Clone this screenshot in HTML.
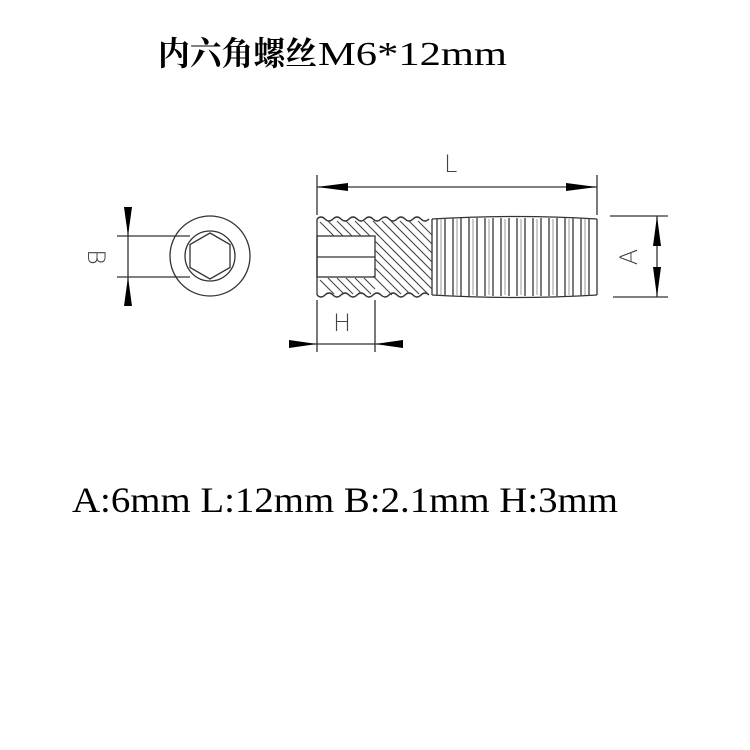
<!DOCTYPE html>
<html><head><meta charset="utf-8"><style>html,body{margin:0;padding:0;background:#fff}svg{display:block}</style></head>
<body>
<svg width="750" height="750" viewBox="0 0 750 750" xmlns="http://www.w3.org/2000/svg">
<rect width="750" height="750" fill="#fff"/>
<text x="158" y="65" font-family="Noto Serif CJK SC, serif" font-size="33" font-weight="bold" textLength="159" lengthAdjust="spacingAndGlyphs" fill="#000">内六角螺丝</text>
<text x="318" y="65" font-family="Liberation Serif, serif" font-size="34" textLength="189" lengthAdjust="spacingAndGlyphs" fill="#000">M6*12mm</text>
<text x="72" y="512" font-family="Liberation Serif, serif" font-size="36" textLength="546" lengthAdjust="spacingAndGlyphs" fill="#000">A:6mm L:12mm B:2.1mm H:3mm</text>
<g stroke="#333" stroke-width="1.3" fill="none">
<circle cx="210" cy="256" r="40"/>
<circle cx="210" cy="256" r="25"/>
<polygon points="210,233 230,244.5 230,267.5 210,279 190,267.5 190,244.5"/>
<line x1="117" y1="236" x2="190" y2="236"/>
<line x1="117" y1="277" x2="190" y2="277"/>
<line x1="128" y1="207" x2="128" y2="305"/>
<line x1="317" y1="175" x2="317" y2="215"/>
<line x1="597" y1="175" x2="597" y2="215"/>
<line x1="317" y1="187" x2="597" y2="187"/>
<line x1="610" y1="216" x2="668" y2="216"/>
<line x1="613" y1="297" x2="668" y2="297"/>
<line x1="657" y1="216" x2="657" y2="297"/>
<line x1="317" y1="300" x2="317" y2="352"/>
<line x1="375" y1="300" x2="375" y2="352"/>
<line x1="290" y1="344" x2="402" y2="344"/>
<path d="M317,219 Q321,215 325,219 Q329,223 333,219 Q337,215 341,219 Q345,223 349,219 Q353,215 357,219 Q361,223 365,219 Q369,215 373,219 Q377,223 381,219 Q385,215 389,219 Q393,223 397,219 Q401,215 405,219 Q409,223 413,219 Q417,215 421,219 Q425,223 429,219"/>
<path d="M317,295 Q321,299 325,295 Q329,291 333,295 Q337,299 341,295 Q345,291 349,295 Q353,299 357,295 Q361,291 365,295 Q369,299 373,295 Q377,291 381,295 Q385,299 389,295 Q393,291 397,295 Q401,299 405,295 Q409,291 413,295 Q417,299 421,295 Q425,291 429,295"/>
<path d="M432,219 Q516,214 597,219"/>
<path d="M432,295 Q516,300 597,295"/>
<line x1="317" y1="219" x2="317" y2="295"/>
<line x1="432" y1="219" x2="432" y2="295"/>
<rect x="317" y="236" width="58" height="41"/>
<line x1="317" y1="257" x2="375" y2="257"/>
<line x1="597" y1="219" x2="597" y2="295"/>
</g>
<g stroke="#444" stroke-width="1.1">
<line x1="320" y1="222" x2="334" y2="236"/><line x1="328" y1="221" x2="343" y2="236"/><line x1="337" y1="221" x2="352" y2="236"/><line x1="346" y1="221" x2="361" y2="236"/><line x1="355" y1="221" x2="370" y2="236"/><line x1="364" y1="221" x2="379" y2="236"/>
<line x1="320" y1="280" x2="334" y2="294"/><line x1="328" y1="278" x2="344" y2="294"/><line x1="337" y1="278" x2="353" y2="294"/><line x1="346" y1="278" x2="362" y2="294"/><line x1="355" y1="278" x2="371" y2="294"/><line x1="364" y1="278" x2="375" y2="289"/>
<line x1="373" y1="221" x2="432" y2="280"/><line x1="382" y1="221" x2="432" y2="271"/><line x1="391" y1="221" x2="432" y2="262"/><line x1="400" y1="221" x2="432" y2="253"/><line x1="409" y1="221" x2="432" y2="244"/><line x1="418" y1="221" x2="432" y2="235"/>
<line x1="375" y1="232" x2="432" y2="289"/><line x1="375" y1="241" x2="428" y2="294"/><line x1="375" y1="250" x2="419" y2="294"/><line x1="375" y1="259" x2="410" y2="294"/><line x1="375" y1="268" x2="401" y2="294"/><line x1="373" y1="276" x2="392" y2="295"/>
</g>
<g stroke="#444" stroke-width="1.4">
<line x1="437" y1="218" x2="437" y2="296"/><line x1="445" y1="218" x2="445" y2="296"/><line x1="453" y1="218" x2="453" y2="296"/><line x1="461" y1="218" x2="461" y2="296"/><line x1="469" y1="218" x2="469" y2="296"/><line x1="477" y1="218" x2="477" y2="296"/><line x1="485" y1="218" x2="485" y2="296"/><line x1="493" y1="218" x2="493" y2="296"/><line x1="501" y1="218" x2="501" y2="296"/><line x1="509" y1="218" x2="509" y2="296"/><line x1="517" y1="218" x2="517" y2="296"/><line x1="525" y1="218" x2="525" y2="296"/><line x1="533" y1="218" x2="533" y2="296"/><line x1="541" y1="218" x2="541" y2="296"/><line x1="549" y1="218" x2="549" y2="296"/><line x1="557" y1="218" x2="557" y2="296"/><line x1="565" y1="218" x2="565" y2="296"/><line x1="573" y1="218" x2="573" y2="296"/><line x1="581" y1="218" x2="581" y2="296"/><line x1="589" y1="218" x2="589" y2="296"/>
</g>
<g stroke="#999" stroke-width="1">
<line x1="441" y1="219" x2="441" y2="295"/><line x1="457" y1="219" x2="457" y2="295"/><line x1="473" y1="219" x2="473" y2="295"/><line x1="489" y1="219" x2="489" y2="295"/><line x1="505" y1="219" x2="505" y2="295"/><line x1="521" y1="219" x2="521" y2="295"/><line x1="537" y1="219" x2="537" y2="295"/><line x1="553" y1="219" x2="553" y2="295"/><line x1="569" y1="219" x2="569" y2="295"/><line x1="585" y1="219" x2="585" y2="295"/>
</g>
<g fill="#000">
<polygon points="317,187 348,183 348,191"/>
<polygon points="597,187 566,183 566,191"/>
<polygon points="657,216 653,246 661,246"/>
<polygon points="657,297 653,267 661,267"/>
<polygon points="317,344 289,340 289,348"/>
<polygon points="375,344 403,340 403,348"/>
<polygon points="128,236 124,207 132,207"/>
<polygon points="128,277 124,306 132,306"/>
</g>
<g font-family="DejaVu Sans, sans-serif" font-size="24" fill="#444" font-weight="200">
<text x="444" y="172">L</text>
<text x="333" y="331">H</text>
<text transform="translate(637,257) rotate(-90)" text-anchor="middle">A</text>
<text transform="translate(88,257) rotate(90)" text-anchor="middle">B</text>
</g>
</svg>
</body></html>
